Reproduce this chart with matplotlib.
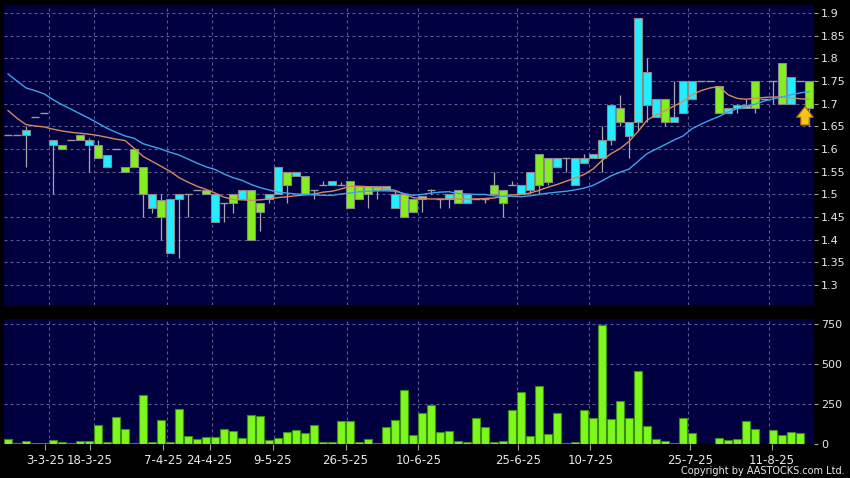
import matplotlib
matplotlib.use("Agg")
import matplotlib.pyplot as plt
import numpy as np

# Dados diários
opens = [1.632, 1.632, 1.632, 1.67, 1.68, 1.61, 1.61, 1.62, 1.632, 1.61,
         1.61, 1.56, 1.60, 1.56, 1.60, 1.56, 1.469, 1.487, 1.371, 1.49,
         1.50, 1.51, 1.51, 1.439, 1.481, 1.50, 1.491, 1.509, 1.481, 1.49,
         1.50, 1.549, 1.541, 1.54, 1.509, 1.52, 1.52, 1.52, 1.529, 1.518,
         1.519, 1.519, 1.51, 1.47, 1.501, 1.49, 1.49, 1.509, 1.49, 1.49,
         1.509, 1.481, 1.49, 1.49, 1.52, 1.51, 1.52, 1.50, 1.51, 1.589,
         1.58, 1.56, 1.58, 1.521, 1.569, 1.58, 1.58, 1.619, 1.69, 1.63,
         1.66, 1.698, 1.67, 1.71, 1.66, 1.68, 1.71, 1.75, 1.75, 1.739,
         1.68, 1.69, 1.698, 1.75, 1.71, 1.75, 1.79, 1.70, 1.75, 1.75]
highs = [1.632, 1.632, 1.65, 1.67, 1.68, 1.62, 1.61, 1.62, 1.632, 1.625,
         1.62, 1.588, 1.60, 1.56, 1.60, 1.56, 1.50, 1.50, 1.49, 1.50,
         1.50, 1.51, 1.51, 1.50, 1.481, 1.50, 1.509, 1.509, 1.481, 1.50,
         1.56, 1.549, 1.549, 1.54, 1.509, 1.53, 1.529, 1.528, 1.529, 1.518,
         1.519, 1.519, 1.519, 1.51, 1.501, 1.49, 1.497, 1.512, 1.49, 1.50,
         1.509, 1.50, 1.49, 1.49, 1.55, 1.51, 1.53, 1.52, 1.55, 1.589,
         1.58, 1.58, 1.58, 1.58, 1.589, 1.589, 1.65, 1.698, 1.719, 1.66,
         1.889, 1.80, 1.71, 1.71, 1.75, 1.75, 1.75, 1.75, 1.75, 1.739,
         1.69, 1.698, 1.71, 1.75, 1.71, 1.75, 1.79, 1.76, 1.75, 1.75]
lows = [1.632, 1.632, 1.56, 1.67, 1.68, 1.50, 1.60, 1.62, 1.621, 1.55,
        1.58, 1.56, 1.60, 1.55, 1.56, 1.45, 1.46, 1.40, 1.371, 1.36,
        1.45, 1.51, 1.50, 1.439, 1.44, 1.46, 1.491, 1.40, 1.42, 1.48,
        1.50, 1.48, 1.541, 1.50, 1.49, 1.52, 1.52, 1.52, 1.47, 1.49,
        1.47, 1.49, 1.51, 1.47, 1.45, 1.461, 1.461, 1.50, 1.47, 1.47,
        1.481, 1.481, 1.49, 1.48, 1.50, 1.45, 1.52, 1.50, 1.50, 1.50,
        1.52, 1.56, 1.55, 1.521, 1.569, 1.58, 1.55, 1.61, 1.65, 1.58,
        1.64, 1.66, 1.67, 1.65, 1.66, 1.68, 1.71, 1.75, 1.75, 1.68,
        1.68, 1.68, 1.69, 1.68, 1.71, 1.70, 1.70, 1.70, 1.75, 1.65]
closes = [1.632, 1.632, 1.642, 1.67, 1.68, 1.62, 1.60, 1.62, 1.621, 1.62,
          1.58, 1.588, 1.60, 1.55, 1.56, 1.50, 1.50, 1.45, 1.49, 1.50,
          1.50, 1.51, 1.50, 1.50, 1.481, 1.481, 1.509, 1.40, 1.461, 1.50,
          1.56, 1.52, 1.549, 1.50, 1.509, 1.52, 1.529, 1.52, 1.47, 1.49,
          1.501, 1.51, 1.519, 1.501, 1.45, 1.461, 1.497, 1.509, 1.49, 1.50,
          1.481, 1.50, 1.49, 1.49, 1.50, 1.48, 1.52, 1.52, 1.55, 1.521,
          1.528, 1.58, 1.58, 1.58, 1.58, 1.589, 1.619, 1.698, 1.66, 1.66,
          1.889, 1.77, 1.71, 1.66, 1.67, 1.75, 1.75, 1.75, 1.75, 1.68,
          1.69, 1.698, 1.69, 1.69, 1.71, 1.75, 1.70, 1.76, 1.75, 1.69]
volumes = [33, 8, 17, 8, 8, 23, 12, 8, 21, 17,
           121, 15, 171, 96, 8, 309, 15, 153, 15, 217,
           48, 33, 42, 42, 96, 79, 36, 182, 178, 23,
           40, 73, 86, 69, 121, 12, 15, 146, 142, 10,
           29, 8, 104, 148, 336, 58, 194, 242, 75, 79,
           19, 15, 163, 109, 12, 17, 215, 326, 50, 366,
           65, 194, 8, 12, 215, 161, 744, 159, 272, 165,
           457, 115, 29, 21, 8, 161, 67, 0, 0, 38,
           25, 31, 146, 92, 0, 90, 54, 77, 71, 0]
# Médias móveis (curta e longa)
ma_short = [1.685, 1.668, 1.654, 1.651, 1.649, 1.644, 1.640, 1.637, 1.635, 1.633,
            1.630, 1.626, 1.622, 1.619, 1.602, 1.584, 1.573, 1.562, 1.551, 1.537,
            1.527, 1.518, 1.511, 1.503, 1.494, 1.489, 1.488, 1.487, 1.488, 1.490,
            1.493, 1.495, 1.497, 1.499, 1.501, 1.505, 1.507, 1.512, 1.518, 1.518,
            1.517, 1.515, 1.512, 1.509, 1.501, 1.493, 1.491, 1.490, 1.490, 1.490,
            1.490, 1.490, 1.490, 1.491, 1.492, 1.496, 1.499, 1.500, 1.503, 1.509,
            1.516, 1.522, 1.529, 1.536, 1.544, 1.556, 1.575, 1.590, 1.601, 1.617,
            1.639, 1.664, 1.675, 1.685, 1.695, 1.705, 1.720, 1.729, 1.735, 1.738,
            1.720, 1.712, 1.710, 1.712, 1.714, 1.715, 1.715, 1.713, 1.711, 1.710]
ma_long = [1.766, 1.750, 1.735, 1.729, 1.722, 1.709, 1.698, 1.688, 1.678, 1.668,
           1.657, 1.646, 1.637, 1.629, 1.624, 1.612, 1.606, 1.600, 1.593, 1.587,
           1.578, 1.569, 1.561, 1.555, 1.545, 1.537, 1.531, 1.522, 1.515, 1.510,
           1.505, 1.503, 1.501, 1.500, 1.499, 1.498, 1.498, 1.501, 1.503, 1.506,
           1.507, 1.508, 1.508, 1.507, 1.502, 1.498, 1.500, 1.503, 1.505, 1.506,
           1.502, 1.501, 1.500, 1.500, 1.497, 1.496, 1.496, 1.495, 1.497, 1.500,
           1.503, 1.505, 1.507, 1.510, 1.514, 1.520, 1.530, 1.541, 1.549, 1.556,
           1.573, 1.590, 1.600, 1.610, 1.620, 1.629, 1.645, 1.655, 1.664, 1.672,
           1.682, 1.689, 1.694, 1.699, 1.706, 1.711, 1.715, 1.720, 1.724, 1.727]

date_labels = ["3-3-25", "18-3-25", "7-4-25", "24-4-25", "9-5-25", "26-5-25",
               "10-6-25", "25-6-25", "10-7-25", "25-7-25", "11-8-25"]
date_ticks = [4.1, 9.1, 17.2, 22.4, 29.4, 37.5, 45.6, 56.7, 64.7, 75.8, 84.9]
date_grid = [4.56, 9.56, 17.63, 22.63, 29.56, 37.67, 45.56, 56.56, 64.56, 75.56, 84.56]
price_ticks = [1.3, 1.35, 1.4, 1.45, 1.5, 1.55, 1.6, 1.65, 1.7, 1.75, 1.8, 1.85, 1.9]
vol_ticks = [0, 250, 500, 750]

BG = '#000040'
GRID = '#5c5c8e'
UP = '#22eeff'
DOWN = '#84ee22'


def style_axes(ax):
    ax.set_facecolor(BG)
    for s in ax.spines.values():
        s.set_visible(False)
    ax.yaxis.tick_right()
    ax.tick_params(axis='y', colors='#a0a0a0', labelcolor='#e8e8e8',
                   length=3, width=0.8, pad=2, labelsize=8)
    for g in date_grid:
        ax.axvline(g, color=GRID, lw=0.8, ls=(0, (2.7, 2.7)), zorder=0)
    ax.set_xlim(-0.45, 89.55)


fig = plt.figure(figsize=(8.5, 4.78), dpi=100, facecolor='black')
ax = fig.add_axes([4 / 850, 1 - 305 / 478, 810 / 850, 300 / 478])
axv = fig.add_axes([4 / 850, 1 - 444 / 478, 810 / 850, 125 / 478])
style_axes(ax)
style_axes(axv)

x = np.arange(len(closes))
o = np.array(opens)
c = np.array(closes)
h = np.array(highs)
l = np.array(lows)

# Pavios
ax.vlines(x, l, h, color='#a8a8a8', lw=0.9, zorder=2)

# Corpos das velas
doji = np.isclose(o, c)
up = (c > o) & ~doji
down = (c < o) & ~doji
w = 0.88
ax.bar(x[up], (c - o)[up], bottom=o[up], width=w, color=UP,
       edgecolor='#8a8a8a', lw=0.8, zorder=3)
ax.bar(x[down], (o - c)[down], bottom=c[down], width=w, color=DOWN,
       edgecolor='#8a8a8a', lw=0.8, zorder=3)
ax.hlines(c[doji], x[doji] - w / 2, x[doji] + w / 2, color='#9a9a9a', lw=1, zorder=3)

# Médias móveis
ax.plot(x, ma_short, color='#d88a5e', lw=1, zorder=4)
ax.plot(x, ma_long, color='#3ea4ea', lw=1, zorder=4)

# Seta no último candle
last = len(closes) - 1
ax.annotate('', xy=(last - 0.45, lows[-1] + 0.05), xytext=(last - 0.45, lows[-1] - 0.003),
            arrowprops=dict(arrowstyle='simple,head_length=0.7,head_width=1.1,tail_width=0.55',
                            fc='#f6c31a', ec='#a86a00', lw=0.8, mutation_scale=11),
            zorder=6)

ax.set_ylim(1.256, 1.918)
ax.set_yticks(price_ticks)
ax.set_yticklabels([f"{t:g}" for t in price_ticks])
ax.set_xticks([])
for t in price_ticks:
    ax.axhline(t, color=GRID, lw=0.8, ls=(0, (2.7, 2.7)), zorder=0)

# Volume
v = np.array(volumes)
nz = v > 0
axv.bar(x[nz], v[nz], width=w, color='#7cf81c', edgecolor='#3c8c14', lw=0.8, zorder=3)
axv.set_ylim(0, 783)
axv.set_yticks(vol_ticks)
axv.set_yticklabels([str(t) for t in vol_ticks])
for t in vol_ticks[1:]:
    axv.axhline(t, color=GRID, lw=0.8, ls=(0, (2.7, 2.7)), zorder=0)
axv.set_xticks(date_ticks)
axv.set_xticklabels(date_labels)
axv.tick_params(axis='x', colors='#a0a0a0', labelcolor='#e8e8e8',
                length=4, width=0.8, pad=3, labelsize=8.5)

fig.text(845 / 850, 1 - 471 / 478, "Copyright by AASTOCKS.com Ltd.", color='#e8e8e8',
         fontsize=7, ha='right', va='center')

fig.savefig('out.png', dpi=100, facecolor='black')
